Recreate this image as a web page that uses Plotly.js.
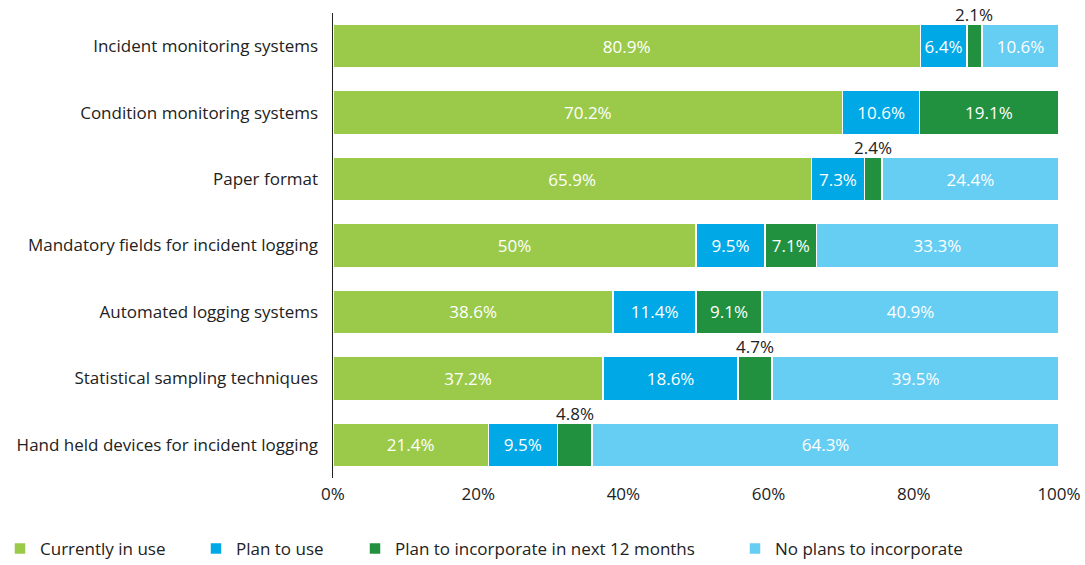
<!DOCTYPE html>
<html><head><meta charset="utf-8">
<script src="https://cdn.plot.ly/plotly-3.0.1.min.js"></script>
<style>html,body{margin:0;padding:0;background:#fff}#chart{width:1085px;height:565px}</style>
</head><body><div id="chart"></div>
<script>
const categories = [
  "Incident monitoring systems",
  "Condition monitoring systems",
  "Paper format",
  "Mandatory fields for incident logging",
  "Automated logging systems",
  "Statistical sampling techniques",
  "Hand held devices for incident logging"
];
const seriesNames = ["Currently in use", "Plan to use", "Plan to incorporate in next 12 months", "No plans to incorporate"];
const currentlyInUse = [80.9, 70.2, 65.9, 50, 38.6, 37.2, 21.4];
const planToUse = [6.4, 10.6, 7.3, 9.5, 11.4, 18.6, 9.5];
const planNext12 = [2.1, 19.1, 2.4, 7.1, 9.1, 4.7, 4.8];
const noPlans = [10.6, null, 24.4, 33.3, 40.9, 39.5, 64.3];
const colors = ["#9BCA4B", "#00A9E6", "#21913F", "#66CDF3"];
const tickVals = [0, 20, 40, 60, 80, 100];
const tickText = ["0%", "20%", "40%", "60%", "80%", "100%"];

const FONT = "Open Sans, Noto Sans, sans-serif";
const FS = 17;
const series = [currentlyInUse, planToUse, planNext12, noPlans];
const threshold = 5;
const legendIds = ["legend", "legend2", "legend3", "legend4"];
const legendX = [0, 196, 355, 735];

const traces = series.map((vals, i) => ({
  type: "bar",
  orientation: "h",
  name: seriesNames[i],
  legend: legendIds[i],
  y: categories,
  x: vals,
  marker: {color: colors[i], line: {color: "#ffffff", width: 1.5}},
  text: vals.map(v => (v != null && v >= threshold) ? v + "%" : ""),
  textposition: "inside",
  insidetextanchor: "middle",
  textangle: 0,
  constraintext: "none",
  textfont: {color: "#ffffff", size: FS, family: FONT},
  hoverinfo: "skip"
}));

const annotations = [];
categories.forEach((c, ci) => {
  let cum = 0;
  series.forEach(vals => {
    const v = vals[ci];
    if (v != null) {
      if (v < threshold) {
        annotations.push({
          x: cum + v / 2, y: c, xref: "x", yref: "y",
          text: v + "%", showarrow: false,
          yanchor: "bottom", yshift: 18,
          font: {size: FS, color: "#222222", family: FONT}
        });
      }
      cum += v;
    }
  });
});

const layout = {
  width: 1085, height: 565,
  margin: {l: 333, r: 26, t: 13, b: 87},
  barmode: "stack",
  bargap: 0.34,
  paper_bgcolor: "#ffffff",
  plot_bgcolor: "#ffffff",
  font: {family: FONT, size: FS, color: "#222222"},
  showlegend: true,
  xaxis: {
    range: [0, 100], tickvals: tickVals, ticktext: tickText,
    showgrid: false, zeroline: false, showline: false, ticks: "",
    ticklabelstandoff: 4,
    tickfont: {size: FS, color: "#222222", family: FONT}, fixedrange: true
  },
  yaxis: {
    type: "category", categoryorder: "array", categoryarray: categories,
    range: [6.5, -0.5], showgrid: false, zeroline: false,
    showline: true, linecolor: "#222222", linewidth: 1.5, ticks: "",
    ticklabelstandoff: 10,
    tickfont: {size: FS, color: "#222222", family: FONT}
  },
  annotations: annotations
};
legendIds.forEach((id, i) => {
  layout[id] = {
    orientation: "h", xref: "container", yref: "container",
    x: legendX[i] / 1085, xanchor: "left",
    y: (565 - 549) / 565, yanchor: "middle",
    font: {size: FS, color: "#222222", family: FONT},
    bgcolor: "rgba(0,0,0,0)"
  };
});

Plotly.newPlot("chart", traces, layout, {displayModeBar: false, staticPlot: true});
</script></body></html>
